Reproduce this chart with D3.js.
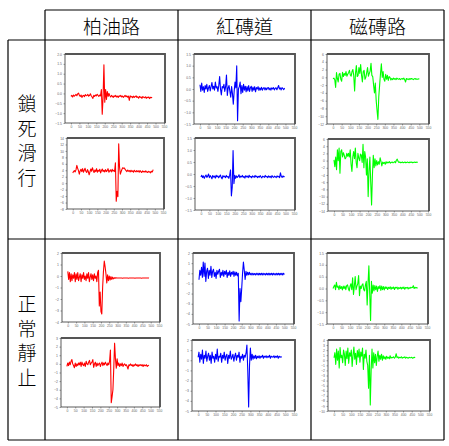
<!DOCTYPE html>
<html><head><meta charset="utf-8">
<script src="https://cdn.jsdelivr.net/npm/d3@7"></script>
<style>html,body{margin:0;padding:0;background:#fff;}svg{display:block;}</style>
</head><body>
<svg id="c" width="449" height="446"></svg>
<script>
// ---- data ----
const columns = ["柏油路", "紅磚道", "磁磚路"];
const rows = ["鎖死滑行", "正常靜止"];
const xTicks = [0,50,100,150,200,250,300,350,400,450,500,550];
const xStep = 5;

// 柏油路 / 鎖死滑行
const asphaltLock1 = [-0.15,-0.1,-0.18,-0.08,-0.14,-0.1,-0.05,-0.12,-0.02,0.02,
-0.1,-0.15,-0.08,-0.2,-0.12,-0.1,-0.16,-0.06,-0.12,-0.1,
-0.05,-0.14,-0.1,-0.02,-0.12,-0.18,-0.25,-0.1,-0.15,-0.08,
-0.12,-0.04,-0.1,-0.15,-0.08,-0.12,0.2,-1.05,-0.2,1.45,
-0.45,0.2,-0.3,0.1,-0.15,0.0,
-0.12,-0.18,-0.1,-0.15,-0.2,-0.12,-0.16,-0.1,-0.18,-0.14,
-0.2,-0.12,-0.15,-0.1,-0.18,-0.13,-0.2,-0.15,-0.1,-0.17,
-0.12,-0.19,-0.14,-0.35,-0.12,-0.18,-0.15,-0.22,-0.14,-0.2,
-0.16,-0.12,-0.2,-0.17,-0.24,-0.15,-0.2,-0.18,-0.25,-0.16,
-0.2,-0.22,-0.17,-0.25,-0.19,-0.22,-0.18,-0.26,-0.2,-0.22,-0.2];
const asphaltLock2 = [3.2,3.6,3.9,3.5,4.2,5.5,4.6,3.9,2.8,3.8,
4.3,3.6,4.5,3.4,4.0,4.6,3.7,3.3,4.2,3.6,
2.6,3.5,4.4,3.7,4.8,3.9,3.3,4.1,3.6,4.5,
3.4,4.0,3.7,4.3,3.2,3.9,4.4,3.6,4.0,3.5,
4.2,3.6,3.9,4.5,3.4,3.8,4.1,3.5,4.3,3.7,
4.0,3.6,6.3,-5.6,-2.5,-4.2,12.2,5.0,2.8,3.6,
4.3,4.8,4.6,4.7,4.2,3.9,3.6,4.1,3.7,3.9,
3.5,4.0,3.6,3.8,3.4,4.0,3.7,3.5,3.9,3.6,
3.8,3.4,3.9,3.6,3.3,3.8,3.5,3.7,3.4,3.8,
3.5,3.3,3.7,3.4,3.6,3.2,3.7,3.5,4.2];
// 柏油路 / 正常靜止
const asphaltRest1 = [0.4,-0.3,0.3,-0.5,0.2,-0.4,0.1,-0.2,0.3,-0.5,
0.2,-0.3,0.3,-0.4,-0.1,0.2,-0.5,0.1,-0.2,0.3,
-0.3,0.0,-0.4,0.2,-0.2,0.3,-0.5,-0.1,0.2,-0.3,
0.1,-0.4,0.2,-0.2,0.0,-0.5,0.3,0.5,
-2.6,-1.4,-3.1,-3.3,-1.0,0.4,1.3,0.8,0.2,-0.6,0.1,-0.4,
0.0,-0.35,-0.05,-0.3,-0.1,-0.25,-0.15,-0.2,-0.15,-0.18,
-0.18,-0.17,-0.18,-0.18,-0.17,-0.18,-0.19,-0.17,-0.18,-0.18,
-0.17,-0.18,-0.18,-0.19,-0.18,-0.17,-0.18,-0.18,-0.17,-0.18,
-0.18,-0.19,-0.18,-0.17,-0.18,-0.18,-0.17,-0.18,-0.18,-0.19,
-0.18,-0.17,-0.18,-0.18,-0.17,-0.18,-0.18,-0.17,-0.18];
const asphaltRest2 = [-0.3,0.1,-0.2,0.2,-0.1,0.3,0.5,0.0,-0.2,-0.45,
0.1,-0.3,0.0,-0.2,0.1,-0.1,0.2,-0.3,0.2,-0.1,
-0.2,0.1,-0.3,0.3,0.0,-0.1,0.2,0.4,-0.1,0.1,
0.2,0.5,-0.4,0.0,0.2,-0.3,0.1,-0.2,0.0,0.1,
-0.3,0.0,0.2,-0.2,0.1,-0.1,0.2,0.0,-0.2,0.1,
-0.1,0.3,1.6,-4.5,-3.8,-3.0,-0.5,2.4,0.6,-0.5,
0.6,-0.2,0.1,-0.3,0.0,-0.2,0.1,-0.3,-0.1,0.0,
-0.2,-0.1,-0.3,-0.6,-0.1,-0.2,0.0,-0.2,-0.1,-0.3,
-0.1,-0.2,0.0,-0.2,-0.1,-0.3,-0.1,-0.2,-0.1,-0.2,
-0.1,-0.3,-0.1,-0.2,-0.2,-0.1,-0.3,-0.2,-0.15];
// 紅磚道 / 鎖死滑行
const brickLock1 = [0.18,-0.1,0.25,-0.05,0.1,-0.15,0.15,0.0,0.2,-0.1,
0.05,0.15,-0.08,0.1,0.28,0.0,0.12,-0.05,0.3,0.05,
0.1,-0.1,0.15,0.53,0.0,-0.25,0.1,0.05,0.2,-0.1,
0.1,0.6,-0.28,0.05,0.15,-0.1,-0.35,0.1,-0.2,-0.65,
-0.1,0.3,0.05,0.99,-1.36,0.0,0.1,0.3,-0.2,0.15,
-0.15,0.2,-0.05,0.12,-0.12,0.1,-0.08,0.15,-0.1,0.05,
0.12,-0.1,0.08,-0.05,0.1,-0.12,0.06,0.0,0.1,-0.06,
0.05,-0.04,0.07,-0.05,0.03,0.06,-0.04,0.05,-0.03,0.04,
0.06,-0.03,0.04,-0.05,0.05,0.0,0.06,-0.04,0.03,0.05,
-0.03,0.06,0.15,0.0,0.05,-0.04,0.06,0.02,-0.03,0.04];
const brickLock2 = [-0.12,-0.05,-0.15,-0.08,-0.18,-0.1,-0.04,-0.14,-0.09,0.0,
-0.15,-0.07,-0.12,-0.2,-0.06,-0.13,-0.09,-0.17,-0.05,-0.12,
-0.08,-0.16,-0.1,-0.04,-0.14,-0.2,-0.07,-0.12,-0.09,-0.15,
-0.06,-0.13,-0.1,-0.18,-0.05,0.17,-0.91,-0.55,0.98,-0.4,
-0.05,-0.18,-0.08,-0.14,-0.1,-0.03,-0.15,-0.09,-0.12,-0.06,
-0.14,-0.1,-0.17,-0.07,-0.12,-0.09,-0.15,-0.05,-0.13,-0.1,
-0.16,-0.08,-0.11,-0.14,-0.06,-0.12,-0.09,-0.15,-0.1,-0.13,
-0.07,-0.12,-0.16,-0.09,-0.11,-0.14,-0.06,-0.12,-0.1,-0.15,
-0.08,-0.13,-0.1,-0.16,-0.07,-0.12,-0.14,-0.09,-0.11,-0.15,
-0.08,-0.12,-0.1,-0.15,0.05,-0.1,-0.14,-0.08,-0.12,-0.1];
// 紅磚道 / 正常靜止
const brickRest1 = [-0.64,0.3,-0.2,0.6,-0.4,1.1,-0.3,1.0,-0.8,0.2,
0.5,-0.5,0.3,-0.2,0.7,-0.4,0.2,0.4,-0.3,0.1,
-0.5,0.3,-0.1,0.2,0.4,-0.4,0.1,-0.2,0.3,-0.3,
0.2,-0.1,0.3,-0.4,0.1,-0.2,0.25,-0.3,0.1,-0.1,
0.2,-0.3,0.15,-0.2,0.1,-0.25,0.0,-4.7,
-1.5,-2.8,-1.5,0.0,1.1,0.3,-0.6,0.2,-0.2,0.1,-0.15,0.1,
-0.15,0.0,-0.17,0.0,-0.15,-0.02,-0.16,0.0,-0.15,0.0,
-0.16,-0.01,-0.15,0.0,-0.16,0.0,-0.15,-0.02,-0.16,0.0,
-0.15,0.0,-0.16,-0.01,-0.15,0.0,-0.16,0.0,-0.15,-0.02,
-0.16,0.0,-0.15,0.0,-0.16,-0.01,-0.15,0.0,-0.16,0.0,-0.12];
const brickRest2 = [0.3,0.8,-0.2,0.6,0.1,1.0,-0.3,0.5,0.2,0.9,
-0.1,0.4,0.7,0.0,0.5,-0.3,0.8,0.2,0.4,-0.2,
0.6,0.1,1.1,-0.1,0.4,0.3,0.7,-0.2,0.5,0.2,
0.8,0.0,0.4,0.6,-0.3,0.5,0.2,0.9,0.1,0.3,
0.6,-0.1,0.4,0.7,0.0,0.5,0.3,0.8,-0.2,0.4,
0.2,0.6,0.0,0.5,0.3,0.7,1.5,-1.0,-4.6,-0.5,
1.2,0.0,0.6,0.1,0.45,0.2,0.5,0.15,0.4,0.25,
0.45,0.2,0.4,0.3,0.5,0.2,0.4,0.3,0.45,0.25,
0.4,0.3,0.5,0.2,0.4,0.35,0.3,0.45,0.25,0.4,
0.3,0.45,0.2,0.4,0.3,0.35,0.3];
// 磁磚路 / 鎖死滑行
const tileLock1 = [-0.4,-0.2,-0.6,-2.6,1.2,-0.3,-1.2,0.8,1.0,-0.5,
-1.0,1.3,0.2,1.0,0.5,1.5,0.3,0.8,1.2,1.8,
0.6,0.3,1.5,2.0,0.4,-3.5,1.0,3.0,0.2,0.5,
2.5,1.0,3.3,0.6,-1.2,1.5,1.8,-0.5,0.0,1.2,
2.5,0.3,1.0,1.6,3.6,0.5,0.2,-2.0,-4.0,-1.5,
-6.0,-8.5,-10.8,-5.0,-2.0,1.0,3.5,0.0,1.5,-0.5,
-1.0,0.8,-0.5,0.5,-0.8,0.2,0.0,-0.7,-0.3,-0.6,
-0.2,-0.5,-0.3,-0.6,-0.2,-0.4,-0.5,-0.3,-0.6,-0.4,
-0.3,-0.5,-0.2,-0.6,-1.2,-0.3,-0.5,-0.4,-0.6,-0.3,
-0.5,-0.3,-0.4,-0.6,-0.4,-0.3,-0.5,-0.4,-0.5,-0.4,-0.4];
const tileLock2 = [0.2,-1.7,1.0,-2.5,3.0,0.0,3.5,-3.5,2.5,3.0,
1.0,2.2,1.5,0.5,0.8,2.0,1.2,2.0,1.0,3.0,
-1.0,-3.0,1.0,2.5,0.5,3.5,-0.5,-2.0,2.0,0.8,
0.0,1.8,1.5,-0.5,4.5,-2.0,2.5,1.0,-4.0,0.5,
-10.0,-3.0,1.0,-6.0,-12.3,-4.0,1.5,-2.0,0.5,-1.5,
0.0,-1.2,-0.3,-1.0,0.8,-0.2,-1.5,-0.4,-0.8,-0.5,
-1.0,-0.3,-0.7,-0.4,-0.6,-0.3,-0.7,-0.5,-0.4,-0.6,
-0.5,-0.3,-0.6,0.1,0.4,-0.2,-0.5,-0.4,-0.6,-0.5,
-0.4,-0.6,-0.5,-0.4,-0.6,-0.5,-0.4,-0.5,-0.6,-0.4,
-0.5,-0.4,-0.6,-0.5,-0.4,-0.5,-0.5,-0.4,-0.5];
// 磁磚路 / 正常靜止
const tileRest1 = [0.0,0.08,0.15,-0.05,0.26,0.05,0.1,-0.05,0.12,0.0,
0.08,-0.06,0.1,0.0,0.1,-0.05,0.12,0.15,0.0,-0.1,
0.1,0.2,-0.05,0.45,-0.25,0.1,0.5,-0.05,0.1,0.2,
0.55,-0.3,0.1,0.0,0.15,0.2,-0.05,-0.1,0.15,0.3,
-0.7,0.2,0.96,-0.2,-1.35,0.3,-0.2,0.15,-0.1,0.12,
-0.05,0.1,-0.12,0.08,0.0,0.12,-0.08,0.1,-0.05,0.08,
-0.06,0.07,0.0,0.06,-0.04,0.05,0.0,0.07,-0.03,0.05,
0.0,0.06,-0.04,0.05,0.02,0.06,-0.03,0.04,0.0,0.05,
-0.02,0.05,0.0,0.06,-0.03,0.04,0.02,0.05,-0.02,0.04,
0.0,0.05,0.03,0.04,0.12,0.0,0.05,0.02,0.04,0.01];
const tileRest2 = [0.5,1.5,-0.8,2.2,0.0,1.8,-1.5,2.5,0.5,1.0,
-0.5,2.0,1.2,-1.0,1.8,0.3,2.4,-0.6,1.5,0.8,
2.0,-1.2,1.0,2.6,0.2,1.4,-0.8,1.9,0.6,2.2,
-0.4,1.6,0.8,2.4,-1.8,1.2,0.4,2.0,-0.2,-1.0,
-5.5,1.0,-8.8,-2.0,2.2,-1.5,1.5,-0.5,1.2,-1.0,
0.8,1.8,-0.2,1.0,0.2,1.2,0.0,0.9,0.3,0.7,
0.2,0.8,0.4,0.6,0.3,0.9,0.4,0.6,0.5,0.7,
0.4,0.6,1.3,0.5,0.7,0.4,0.6,0.5,0.7,0.4,
0.6,0.5,0.7,0.4,0.6,0.5,0.4,0.6,0.5,0.5,
0.6,0.4,0.5,0.6,0.5];

// y tick labels per chart
const yTicksHalf35 = [-1.5,-1.0,-0.5,0,0.5,1.0,1.5,2.0];
const yTicksEven22 = [-8,-6,-4,-2,0,2,4,6,8,10,12,14];
const yTicksOne6 = [-4,-3,-2,-1,0,1,2];
const yTicksOne8 = [-5,-4,-3,-2,-1,0,1,2,3];
const yTicksHalf3 = [-1.5,-1.0,-0.5,0,0.5,1.0,1.5];
const yTicksOne7 = [-5,-4,-3,-2,-1,0,1,2];
const yTicksEven18 = [-12,-10,-8,-6,-4,-2,0,2,4,6];
const yTicksEven20 = [-14,-12,-10,-8,-6,-4,-2,0,2,4,6];
const yTicksOne14 = [-10,-9,-8,-7,-6,-5,-4,-3,-2,-1,0,1,2,3,4];

const seriesColors = ["#ff0000", "#0000ff", "#00ff00"];

// ---- layout ----
const W = 449, H = 446;
const colX = [8, 45, 178, 311, 444];
const rowY = [10, 40, 239, 440];

const charts = [
  {col:0, data:asphaltLock1, ticks:yTicksHalf35, fmt:".1f", box:[65,54,100,69]},
  {col:0, data:asphaltLock2, ticks:yTicksEven22, fmt:"d", box:[67,138,97,71]},
  {col:0, data:asphaltRest1, ticks:yTicksOne6, fmt:"d", box:[62,253,98,69]},
  {col:0, data:asphaltRest2, ticks:yTicksOne8, fmt:"d", box:[61,338,99,69]},
  {col:1, data:brickLock1, ticks:yTicksHalf3, fmt:".1f", box:[194,54,101,70]},
  {col:1, data:brickLock2, ticks:yTicksHalf3, fmt:".1f", box:[195,138,100,72]},
  {col:1, data:brickRest1, ticks:yTicksOne7, fmt:"d", box:[193,253,101,71]},
  {col:1, data:brickRest2, ticks:yTicksOne7, fmt:"d", box:[192,340,103,71]},
  {col:2, data:tileLock1, ticks:yTicksEven18, fmt:"d", box:[327,54,102,70]},
  {col:2, data:tileLock2, ticks:yTicksEven20, fmt:"d", box:[328,139,101,72]},
  {col:2, data:tileRest1, ticks:yTicksHalf3, fmt:".1f", box:[327,253,101,71]},
  {col:2, data:tileRest2, ticks:yTicksOne14, fmt:"d", box:[328,340,102,71]}
];

const svg = d3.select("#c");
svg.append("rect").attr("width", W).attr("height", H).attr("fill", "#fff");

// table grid
const g = svg.append("g").attr("stroke", "#000").attr("stroke-width", 1.2).attr("fill", "none");
g.append("line").attr("x1", colX[1]).attr("x2", colX[4]).attr("y1", rowY[0]).attr("y2", rowY[0]);
[rowY[1], rowY[2], rowY[3]].forEach(y => g.append("line").attr("x1", colX[0]).attr("x2", colX[4]).attr("y1", y).attr("y2", y));
g.append("line").attr("x1", colX[0]).attr("x2", colX[0]).attr("y1", rowY[1]).attr("y2", rowY[3]);
[colX[1], colX[2], colX[3], colX[4]].forEach(x => g.append("line").attr("x1", x).attr("x2", x).attr("y1", rowY[0]).attr("y2", rowY[3]));

const cjk = "'Noto Sans CJK TC','Noto Sans CJK SC',sans-serif";
columns.forEach((t, i) => {
  svg.append("text").attr("x", (colX[i+1] + colX[i+2]) / 2).attr("y", 25)
    .attr("text-anchor", "middle").attr("dominant-baseline", "central")
    .attr("font-family", cjk).attr("font-weight", 300).attr("font-size", 19)
    .attr("fill", "#000").text(t);
});
rows.forEach((t, r) => {
  const cy = (rowY[r+1] + rowY[r+2]) / 2;
  const chars = Array.from(t);
  const gap = 24.5;
  chars.forEach((ch, k) => {
    svg.append("text").attr("x", 27).attr("y", cy + (k - (chars.length - 1) / 2) * gap)
      .attr("text-anchor", "middle").attr("dominant-baseline", "central")
      .attr("font-family", cjk).attr("font-weight", 300).attr("font-size", 19)
      .attr("fill", "#000").text(ch);
  });
});

charts.forEach(c => {
  const [bx, by, bw, bh] = c.box;
  const x = d3.scaleLinear().domain([-35, 556]).range([bx, bx + bw]);
  const yd = d3.extent(c.ticks);
  const y = d3.scaleLinear().domain(yd).range([by + bh, by]);
  const cg = svg.append("g");

  const xa = cg.append("g").attr("transform", `translate(0,${by + bh})`)
    .call(d3.axisBottom(x).tickValues(xTicks).tickSize(1.5).tickPadding(1.5).tickFormat(d3.format("d")));
  const ya = cg.append("g").attr("transform", `translate(${bx},0)`)
    .call(d3.axisLeft(y).tickValues(c.ticks).tickSize(1.5).tickPadding(1.5).tickFormat(d3.format(c.fmt)));
  [xa, ya].forEach(a => {
    a.select(".domain").remove();
    a.selectAll("text").attr("font-size", 3.4).attr("fill", "#666").attr("font-family", "Arial, 'Liberation Sans', sans-serif");
    a.selectAll("line").attr("stroke", "#666").attr("stroke-width", 0.6);
  });

  const line = d3.line().x((d, i) => x(i * xStep)).y(d => y(d));
  cg.append("path").datum(c.data).attr("d", line)
    .attr("fill", "none").attr("stroke", seriesColors[c.col]).attr("stroke-width", 1.1)
    .attr("stroke-linejoin", "round");

  cg.append("rect").attr("x", bx).attr("y", by).attr("width", bw).attr("height", bh)
    .attr("fill", "none").attr("stroke", "#333").attr("stroke-width", 0.8);
  cg.append("path").attr("d", `M${bx},${by}H${bx + bw}V${by + bh}`)
    .attr("fill", "none").attr("stroke", "#555").attr("stroke-width", 1.8);
});
</script>
</body></html>
